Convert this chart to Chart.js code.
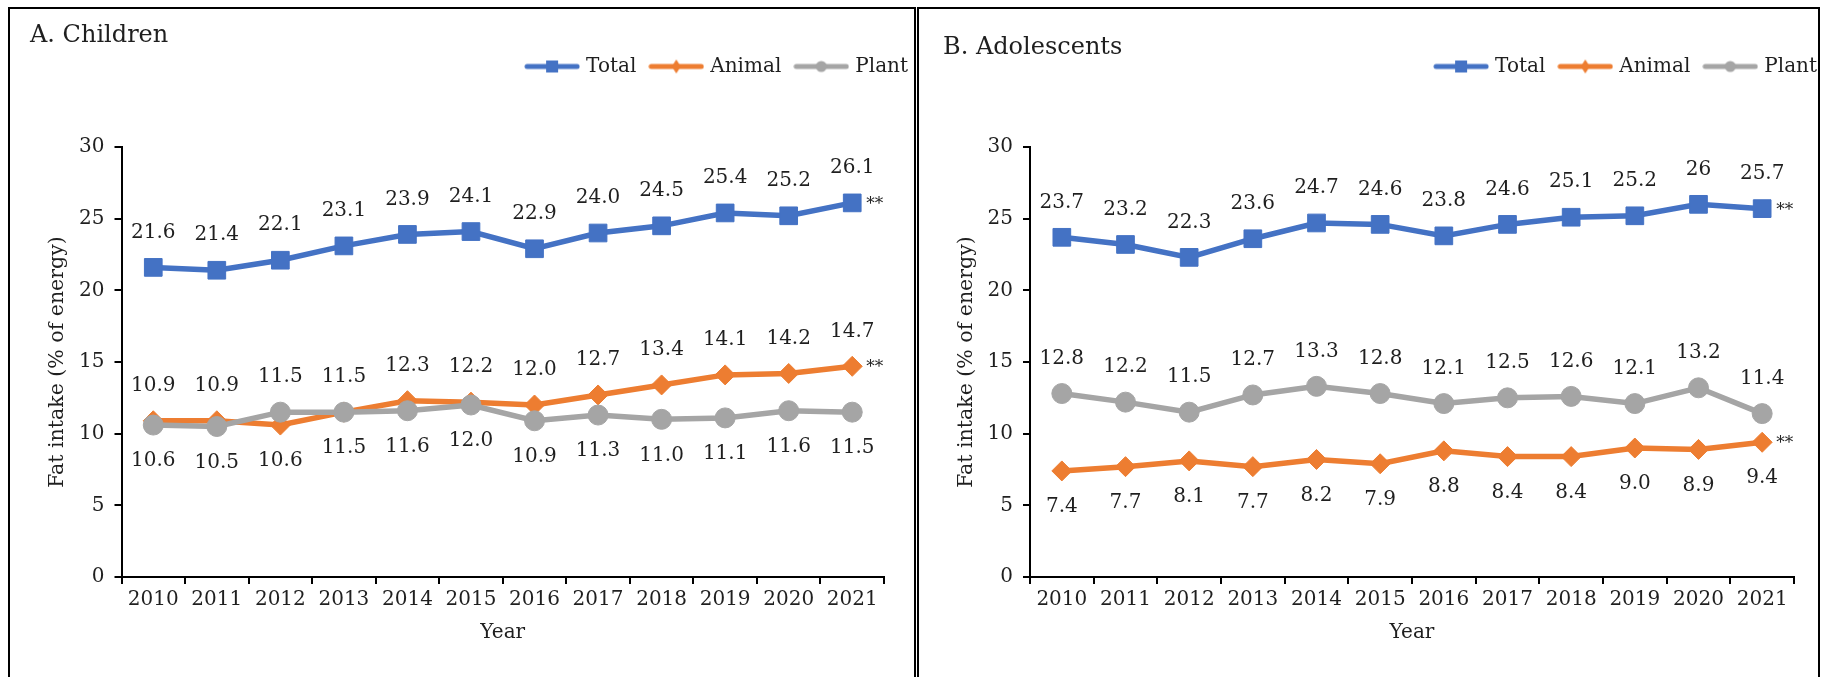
<!DOCTYPE html>
<html>
<head>
<meta charset="utf-8">
<script src="https://cdn.jsdelivr.net/npm/chart.js@4.4.1/dist/chart.umd.min.js"></script>
<style>
  html, body { margin: 0; padding: 0; background: #fff; overflow: hidden; width: 1825px; height: 677px; }
  .panel { position: absolute; top: 7px; height: 730px; border: 2px solid #000; box-sizing: border-box; }
  #panelA { left: 8px; width: 908px; }
  #panelB { left: 917px; width: 903px; }
  .wrap { position: absolute; top: 9px; width: 914px; height: 668px; }
  #wrapA { left: 10px; }
  #wrapB { left: 919px; }
</style>
</head>
<body>
<div class="panel" id="panelA"></div>
<div class="panel" id="panelB"></div>
<div class="wrap" id="wrapA"><canvas id="chartA" width="914" height="668"></canvas></div>
<div class="wrap" id="wrapB"><canvas id="chartB" width="914" height="668"></canvas></div>
<script>
const years = ['2010', '2011', '2012', '2013', '2014', '2015', '2016', '2017', '2018', '2019', '2020', '2021'];

// A. Children
const childTotal  = [21.6, 21.4, 22.1, 23.1, 23.9, 24.1, 22.9, 24.0, 24.5, 25.4, 25.2, 26.1];
const childAnimal = [10.9, 10.9, 10.6, 11.5, 12.3, 12.2, 12.0, 12.7, 13.4, 14.1, 14.2, 14.7];
const childPlant  = [10.6, 10.5, 11.5, 11.5, 11.6, 12.0, 10.9, 11.3, 11.0, 11.1, 11.6, 11.5];

// B. Adolescents
const teenTotal  = [23.7, 23.2, 22.3, 23.6, 24.7, 24.6, 23.8, 24.6, 25.1, 25.2, 26, 25.7];
const teenAnimal = [7.4, 7.7, 8.1, 7.7, 8.2, 7.9, 8.8, 8.4, 8.4, 9.0, 8.9, 9.4];
const teenPlant  = [12.8, 12.2, 11.5, 12.7, 13.3, 12.8, 12.1, 12.5, 12.6, 12.1, 13.2, 11.4];

const yMin = 0, yMax = 30, yStep = 5;

const FONT = 'DejaVu Serif';
const INK = '#1f1f1f';
const BLUE = '#4472C4', ORANGE = '#ED7D31', GREY = '#A5A5A5';

// small line + marker swatch used as the legend point style
function legendIcon(color, style) {
  const c = document.createElement('canvas');
  c.width = 56; c.height = 20;
  const g = c.getContext('2d');
  g.strokeStyle = color;
  g.fillStyle = color;
  g.lineWidth = 5;
  g.lineCap = 'round';
  g.beginPath();
  g.moveTo(3, 10);
  g.lineTo(53, 10);
  g.stroke();
  g.beginPath();
  if (style === 'rect') {
    g.rect(22, 4, 12, 12);
  } else if (style === 'rectRot') {
    g.moveTo(28, 3); g.lineTo(32.5, 10); g.lineTo(28, 17); g.lineTo(23.5, 10); g.closePath();
  } else {
    g.arc(28, 10, 5.5, 0, Math.PI * 2);
  }
  g.fill();
  return c;
}

const icons = {
  Total: legendIcon(BLUE, 'rect'),
  Animal: legendIcon(ORANGE, 'rectRot'),
  Plant: legendIcon(GREY, 'circle')
};

function series(label, data, color, style, radius, extra) {
  return Object.assign({
    label: label,
    data: data,
    borderColor: color,
    backgroundColor: color,
    borderWidth: 5.5,
    tension: 0,
    pointStyle: style,
    pointRadius: radius,
    pointHoverRadius: radius,
    pointBackgroundColor: color,
    pointBorderColor: color,
    pointBorderWidth: 1
  }, extra);
}

// empty box between the legend and the plot, keeps the legend up near the title
const legendGap = {
  id: 'legendGap',
  beforeInit(chart, args, opts) {
    Chart.layouts.addBox(chart, {
      position: 'top',
      weight: 0,
      fullSize: true,
      options: {},
      isHorizontal() { return true; },
      update(maxWidth) { this.width = maxWidth; this.height = opts.size; },
      draw() {}
    });
  }
};

// value labels above / below each point, plus the trend marker after the last point
const valueLabels = {
  id: 'valueLabels',
  afterDatasetsDraw(chart) {
    const ctx = chart.ctx;
    ctx.save();
    ctx.fillStyle = INK;
    chart.data.datasets.forEach((ds, i) => {
      const meta = chart.getDatasetMeta(i);
      if (meta.hidden) return;
      ctx.font = '20px "' + FONT + '"';
      ctx.textAlign = 'center';
      ctx.textBaseline = 'middle';
      meta.data.forEach((pt, j) => {
        const v = ds.data[j];
        const text = ds.plainWhole && Number.isInteger(v) ? String(v) : v.toFixed(1);
        const side = Array.isArray(ds.valueSide) ? ds.valueSide[j] : ds.valueSide;
        ctx.fillText(text, pt.x, pt.y + (side === 'above' ? -35 : 36));
      });
      if (ds.trendMark) {
        const last = meta.data[meta.data.length - 1];
        ctx.font = '17px "' + FONT + '"';
        ctx.textAlign = 'left';
        ctx.textBaseline = 'alphabetic';
        ctx.fillText(ds.trendMark, last.x + 14, last.y + 6);
      }
    });
    ctx.restore();
  }
};

function makeChart(id, title, datasets, box) {
  return new Chart(document.getElementById(id), {
    type: 'line',
    data: { labels: years, datasets: datasets },
    plugins: [legendGap, valueLabels],
    options: {
      responsive: false,
      animation: false,
      devicePixelRatio: 1,
      layout: { padding: { left: box.padLeft, right: 0, top: 0, bottom: 0 } },
      plugins: {
        tooltip: { enabled: false },
        legendGap: { size: 60.5 },
        title: {
          display: true,
          text: title,
          align: 'start',
          color: INK,
          font: { family: FONT, size: 24, weight: 'normal' },
          padding: { top: box.titleTop, bottom: box.titleBottom }
        },
        legend: {
          position: 'top',
          align: 'end',
          labels: {
            usePointStyle: true,
            pointStyleWidth: 48,
            padding: 16,
            color: INK,
            font: { family: FONT, size: 20 },
            generateLabels(chart) {
              return chart.data.datasets.map((ds, i) => ({
                text: ds.label,
                datasetIndex: i,
                hidden: !chart.isDatasetVisible(i),
                pointStyle: icons[ds.label],
                fillStyle: ds.borderColor,
                strokeStyle: ds.borderColor,
                lineWidth: 0,
                fontColor: INK
              }));
            }
          }
        }
      },
      scales: {
        x: {
          offset: true,
          grid: { display: true, offset: true, drawOnChartArea: false, drawTicks: true, tickLength: 7, color: '#000', lineWidth: 2 },
          border: { display: true, color: '#000', width: 2 },
          ticks: { color: INK, font: { family: FONT, size: 20 }, padding: 4, maxRotation: 0, autoSkip: false },
          title: { display: true, text: 'Year', color: INK, font: { family: FONT, size: 20 }, padding: { top: 0, bottom: 32 } },
          afterFit(s) { s.height = 100; s.paddingRight = box.padRight; }
        },
        y: {
          min: yMin,
          max: yMax,
          ticks: { stepSize: yStep, color: INK, font: { family: FONT, size: 20 }, padding: 10 },
          grid: { drawOnChartArea: false, drawTicks: true, tickLength: 7, color: '#000', lineWidth: 2 },
          border: { display: true, color: '#000', width: 2 },
          title: { display: true, text: 'Fat intake (% of energy)', color: INK, font: { family: FONT, size: 20.5 }, padding: { top: box.yTitlePad, bottom: 0 } },
          afterFit(s) { s.width = box.yWidth; }
        }
      }
    }
  });
}

makeChart('chartA', 'A. Children', [
  series('Total', childTotal, BLUE, 'rect', 12.5, { valueSide: 'above', trendMark: '**', order: 0 }),
  series('Animal', childAnimal, ORANGE, 'rectRot', 10, {
    valueSide: childAnimal.map((v, i) => v >= childPlant[i] ? 'above' : 'below'),
    trendMark: '**', order: 2
  }),
  series('Plant', childPlant, GREY, 'circle', 10, {
    valueSide: childPlant.map((v, i) => v > childAnimal[i] ? 'above' : 'below'),
    order: 1
  })
], { padLeft: 20, yWidth: 91.5, yTitlePad: 15, padRight: 40, titleTop: 12.6, titleBottom: -9.9 });

makeChart('chartB', 'B. Adolescents', [
  series('Total', teenTotal, BLUE, 'rect', 12.5, { valueSide: 'above', trendMark: '**', plainWhole: true }),
  series('Animal', teenAnimal, ORANGE, 'rectRot', 10, { valueSide: 'below', trendMark: '**' }),
  series('Plant', teenPlant, GREY, 'circle', 10, { valueSide: 'above' })
], { padLeft: 24, yWidth: 87, yTitlePad: 11, padRight: 39, titleTop: 24.1, titleBottom: -21.4 });
</script>
</body>
</html>
